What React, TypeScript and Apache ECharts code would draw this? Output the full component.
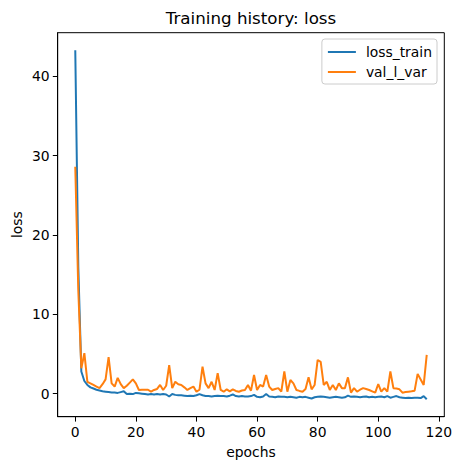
import React, { useEffect, useRef } from "react";
import * as echarts from "echarts";

const lossTrain: number[] = [
  43.3, 16, 2.8, 1.6, 1.1, 0.8, 0.65, 0.5, 0.4, 0.3,
  0.25, 0.2, 0.15, 0.15, 0.1, 0.2, 0.3, -0.05, 0.0, -0.05,
  0.1, 0.05, 0.0, -0.05, -0.1, -0.05, -0.1, -0.05, -0.1, -0.05,
  -0.1, -0.35, -0.05, -0.15, -0.2, -0.2, -0.25, -0.3, -0.25, -0.3,
  -0.2, -0.05, -0.2, -0.3, -0.3, -0.35, -0.3, -0.25, -0.3, -0.3,
  -0.35, -0.25, -0.1, -0.3, -0.35, -0.3, -0.35, -0.35, -0.3, -0.15,
  -0.4, -0.45, -0.35, -0.05, -0.35, -0.4, -0.45, -0.35, -0.4, -0.4,
  -0.45, -0.4, -0.45, -0.5, -0.4, -0.45, -0.4, -0.5, -0.6, -0.45,
  -0.4, -0.35, -0.4, -0.45, -0.5, -0.45, -0.4, -0.45, -0.5, -0.45,
  -0.25, -0.4, -0.35, -0.4, -0.45, -0.4, -0.35, -0.45, -0.4, -0.45,
  -0.4, -0.35, -0.45, -0.3, -0.5, -0.4, -0.3, -0.45, -0.5, -0.55,
  -0.5, -0.55, -0.5, -0.5, -0.55, -0.3, -0.7,
];

const valLVar: number[] = [
  28.6, 13, 3.2, 5.1, 1.5, 1.3, 1.1, 0.9, 0.7, 1.2,
  1.8, 4.6, 1.3, 0.9, 2.0, 1.2, 0.7, 1.0, 1.4, 1.8,
  1.3, 0.47, 0.5, 0.5, 0.5, 0.25, 0.47, 0.6, 1.1, 0.47,
  1.0, 3.6, 0.7, 1.5, 1.2, 1.1, 0.8, 0.47, 0.7, 0.9,
  0.25, 0.5, 3.4, 1.3, 0.7, 1.5, 0.47, 2.6, 0.47, 0.25,
  0.55, 0.3, 0.55, 0.34, 0.25, 0.4, 0.47, 1.1, 0.38, 2.35,
  0.47, 1.1, 0.9, 2.35, 0.9, 0.47, 0.6, 0.7, 0.25, 2.8,
  0.25, 1.73, 1.3, 0.47, 0.35, 0.25, 0.6, 2.06, 0.55, 1.1,
  4.25, 4.0, 1.1, 1.5, 0.47, 1.1, 0.47, 1.3, 0.7, 0.7,
  2.06, 0.13, 0.7, 0.25, 0.5, 0.7, 0.6, 0.47, 0.3, 0.13,
  1.22, 0.25, 0.7, 0.25, 2.8, 0.7, 0.65, 0.55, 0.13, 0.2,
  0.25, 0.3, 0.38, 2.5, 1.8, 1.1, 4.9,
];

const xTicks: number[] = [0, 20, 40, 60, 80, 100, 120];
const yTicks: number[] = [0, 10, 20, 30, 40];
const seriesNames: string[] = ["loss_train", "val_l_var"];
const titleText = "Training history: loss";
const xName = "epochs";
const yName = "loss";

const FONT = "DejaVu Sans, sans-serif";

export default function App() {
  const ref = useRef<HTMLDivElement>(null);
  useEffect(() => {
    document.body.style.margin = "0";
    if (!ref.current) return;
    const chart = echarts.init(ref.current, undefined, { renderer: "svg" });
    const gl = 57.7, gt = 32.7, gr = 444.3, gb = 416.7;
    const option: any = {
      animation: false,
      backgroundColor: "#ffffff",
      grid: {
        left: gl,
        top: gt,
        right: 459 - gr,
        bottom: 470 - gb,
        show: true,
        borderColor: "#000",
        borderWidth: 1,
        backgroundColor: "transparent",
      },
      legend: {
        data: seriesNames.map((n) => ({ name: n })),
        orient: "vertical",
        right: 22,
        top: 39,
        icon: "rect",
        itemWidth: 28,
        itemHeight: 2,
        itemGap: 6,
        padding: [6, 5, 5, 6],
        backgroundColor: "rgba(255,255,255,0.8)",
        borderColor: "#cccccc",
        borderWidth: 1,
        borderRadius: 3,
        textStyle: {
          fontFamily: FONT,
          fontSize: 13.9,
          color: "#000",
          padding: [0, 0, 0, 5],
        },
      },
      xAxis: {
        type: "value",
        min: -5.8,
        max: 121.8,
        axisLine: { show: true, onZero: false, lineStyle: { color: "#000", width: 1 } },
        axisTick: {
          show: true,
          length: 4.9,
          lineStyle: { color: "#000", width: 1 },
          customValues: xTicks,
        },
        axisLabel: {
          customValues: xTicks,
          margin: 8,
          fontFamily: FONT,
          fontSize: 13.9,
          color: "#000",
        },
        splitLine: { show: false },
      },
      yAxis: {
        type: "value",
        min: -2.9,
        max: 45.5,
        axisLine: { show: true, onZero: false, lineStyle: { color: "#000", width: 1 } },
        axisTick: {
          show: true,
          length: 4.9,
          lineStyle: { color: "#000", width: 1 },
          customValues: yTicks,
        },
        axisLabel: {
          customValues: yTicks,
          margin: 8,
          fontFamily: FONT,
          fontSize: 13.9,
          color: "#000",
        },
        splitLine: { show: false },
      },
      graphic: [
        {
          type: "text",
          x: (gl + gr) / 2,
          y: 18,
          style: {
            text: titleText,
            fontFamily: FONT,
            fontSize: 16.7,
            fill: "#000",
            align: "center",
            verticalAlign: "middle",
          },
        },
        {
          type: "text",
          x: (gl + gr) / 2,
          y: 452,
          style: {
            text: xName,
            fontFamily: FONT,
            fontSize: 13.9,
            fill: "#000",
            align: "center",
            verticalAlign: "middle",
          },
        },
        {
          type: "text",
          x: 17,
          y: (gt + gb) / 2,
          rotation: Math.PI / 2,
          style: {
            text: yName,
            fontFamily: FONT,
            fontSize: 13.9,
            fill: "#000",
            align: "center",
            verticalAlign: "middle",
          },
        },
      ],
      series: [
        {
          name: seriesNames[0],
          type: "line",
          data: lossTrain.map((v, i) => [i, v]),
          showSymbol: false,
          symbol: "none",
          lineStyle: { color: "#1f77b4", width: 2 },
          itemStyle: { color: "#1f77b4" },
          z: 2,
        },
        {
          name: seriesNames[1],
          type: "line",
          data: valLVar.map((v, i) => [i, v]),
          showSymbol: false,
          symbol: "none",
          lineStyle: { color: "#ff7f0e", width: 2 },
          itemStyle: { color: "#ff7f0e" },
          z: 3,
        },
      ],
    };
    chart.setOption(option);
    return () => chart.dispose();
  }, []);
  return (
    <div
      ref={ref}
      style={{ position: "absolute", left: 0, top: 0, width: 459, height: 470 }}
    />
  );
}
